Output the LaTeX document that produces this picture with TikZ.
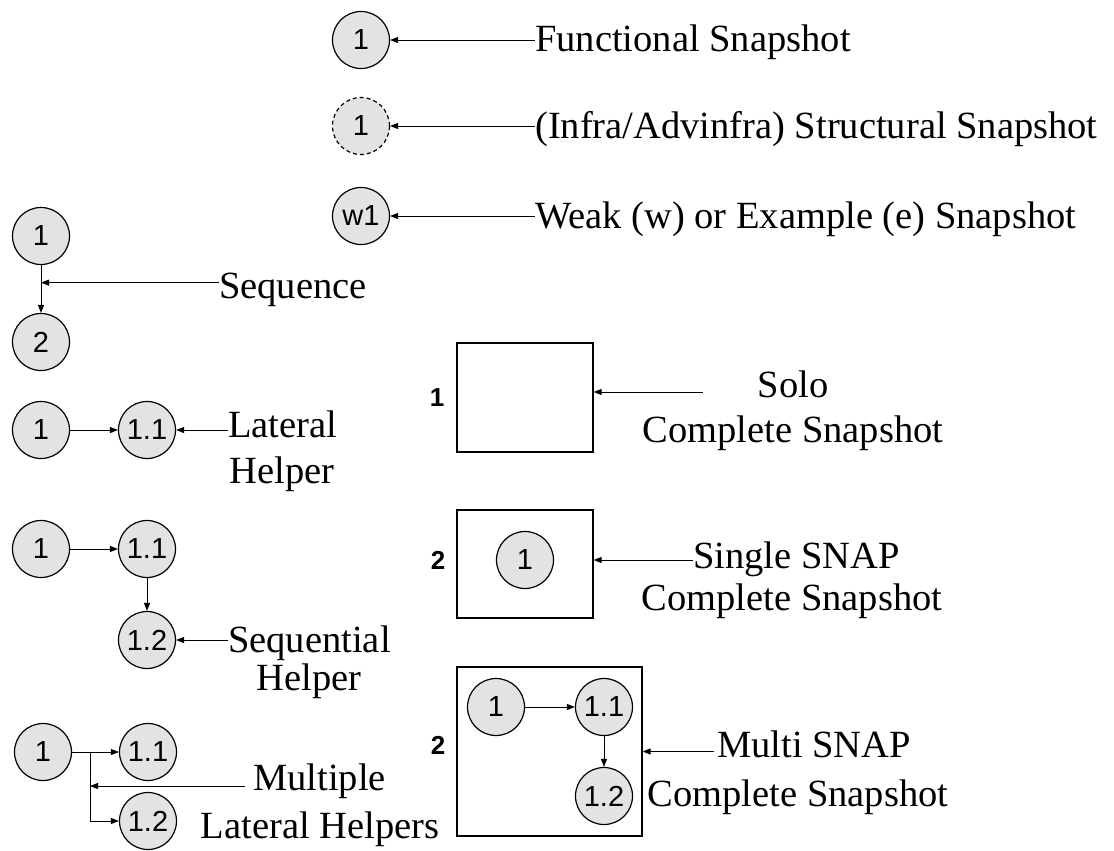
\documentclass[tikz,border=0pt]{standalone}
\usepackage{fontspec}
\setmainfont{Liberation Serif}
\setsansfont{Liberation Sans}
\usetikzlibrary{arrows.meta, calc}

\begin{document}
\begin{tikzpicture}[
  x=1pt, y=-1pt,
  snap/.style={draw, circle, minimum size=57pt, inner sep=0pt,
    fill=black!11, line width=1.2pt, font=\fontsize{29}{29}\sffamily},
  infra/.style={snap, dash pattern=on 4pt off 3pt},
  cbox/.style={draw, line width=1.2pt, inner sep=0pt},
  num/.style={font=\fontsize{26}{26}\sffamily\bfseries},
  lbl/.style={font=\fontsize{38.5}{40}\selectfont, inner sep=0pt},
  arr/.style={-{Triangle[length=8pt, width=6pt]}, line width=0.9pt},
]
  \useasboundingbox (0,0) rectangle (1114,851);

  % -- Legend of snapshot kinds --
  \node[snap] (func) at (361,40) {1};
  \node[infra] (infra) at (361,126) {1};
  \node[snap] (weak) at (361,216) {w1};
  \node[lbl, anchor=base west] (functxt) at (535,52) {Functional Snapshot};
  \node[lbl, anchor=base west] (infratxt) at (535,138)
    {(Infra/Advinfra) Structural Snapshot};
  \node[lbl, anchor=base west] (weaktxt) at (535,228)
    {Weak (w) or Example (e) Snapshot};
  \draw[arr] (functxt.west |- func) -- (func);
  \draw[arr] (infratxt.west |- infra) -- (infra);
  \draw[arr] (weaktxt.west |- weak) -- (weak);

  % -- Sequence --
  \node[snap] (seqa) at (41,236) {1};
  \node[snap] (seqb) at (41,342) {2};
  \draw[arr] (seqa) -- (seqb);
  \coordinate (seqhit) at ($(seqa)!0.44!(seqb)$);
  \node[lbl, anchor=base west] (seqtxt) at (219,298) {Sequence};
  \draw[arr] (seqtxt.west |- seqhit) -- (seqhit);

  % -- Lateral helper --
  \node[snap] (lata) at (41,430) {1};
  \node[snap] (latb) at (147,430) {1.1};
  \draw[arr] (lata) -- (latb);
  \node[lbl, anchor=base west] (lattxt) at (228,437) {Lateral};
  \node[lbl, anchor=base] (lathlp) at (282,483) {Helper};
  \draw[arr] (lattxt.west |- latb) -- (latb);

  % -- Sequential helper --
  \node[snap] (sqha) at (41,549) {1};
  \node[snap] (sqhb) at (147,549) {1.1};
  \node[snap] (sqhc) at (147,640) {1.2};
  \draw[arr] (sqha) -- (sqhb);
  \draw[arr] (sqhb) -- (sqhc);
  \node[lbl, anchor=base west] (sqhtxt) at (228,652) {Sequential};
  \node[lbl, anchor=base] (sqhhlp) at (309,690) {Helper};
  \draw[arr] (sqhtxt.west |- sqhc) -- (sqhc);

  % -- Multiple lateral helpers --
  \node[snap] (mula) at (43,752) {1};
  \node[snap] (mulb) at (148,752) {1.1};
  \node[snap] (mulc) at (148,821) {1.2};
  \coordinate (mulfork) at (90,752);
  \coordinate (mulhit) at (90,786);
  \draw[arr] (mula) -- (mulb);
  \draw[arr] (mulfork) |- (mulc);
  \node[lbl, anchor=base west] (multxt) at (253,790) {Multiple};
  \node[lbl, anchor=base] (mulhlp) at (320,838) {Lateral Helpers};
  \draw[arr] ([xshift=-8pt]multxt.west |- mulhit) -- (mulhit);

  % -- Solo complete snapshot --
  \node[cbox, minimum width=136pt, minimum height=109pt] (solo)
    at (525,397.5) {};
  \node[num] (solonum) at (437,398) {1};
  \coordinate (solofrom) at (703,392);
  \draw[arr] (solofrom) -- (solo.east |- solofrom);
  \node[lbl, anchor=base] (solotxt) at (793,397) {Solo};
  \node[lbl, anchor=base] (solocmp) at (793,442) {Complete Snapshot};

  % -- Single SNAP complete snapshot --
  \node[cbox, minimum width=136pt, minimum height=108pt] (single)
    at (525,564) {};
  \node[snap] (sglin) at (525,560) {1};
  \node[num] (sglnum) at (438,560) {2};
  \node[lbl, anchor=base west] (sgltxt) at (693,568) {Single SNAP};
  \node[lbl, anchor=base] (sglcmp) at (792,610) {Complete Snapshot};
  \draw[arr] (sgltxt.west |- sglin) -- (single.east |- sglin);

  % -- Multi SNAP complete snapshot --
  \node[cbox, minimum width=185pt, minimum height=169pt] (multi)
    at (549.5,751.5) {};
  \node[snap] (mlta) at (496,707) {1};
  \node[snap] (mltb) at (604,707) {1.1};
  \node[snap] (mltc) at (604,796) {1.2};
  \draw[arr] (mlta) -- (mltb);
  \draw[arr] (mltb) -- (mltc);
  \node[num] (mltnum) at (438,745) {2};
  \node[lbl, anchor=base west] (mlttxt) at (717,757) {Multi SNAP};
  \node[lbl, anchor=base] (mltcmp) at (798,806) {Complete Snapshot};
  \draw[arr] ([xshift=-3pt]mlttxt.west |- multi.east) -- (multi.east);
\end{tikzpicture}
\end{document}
